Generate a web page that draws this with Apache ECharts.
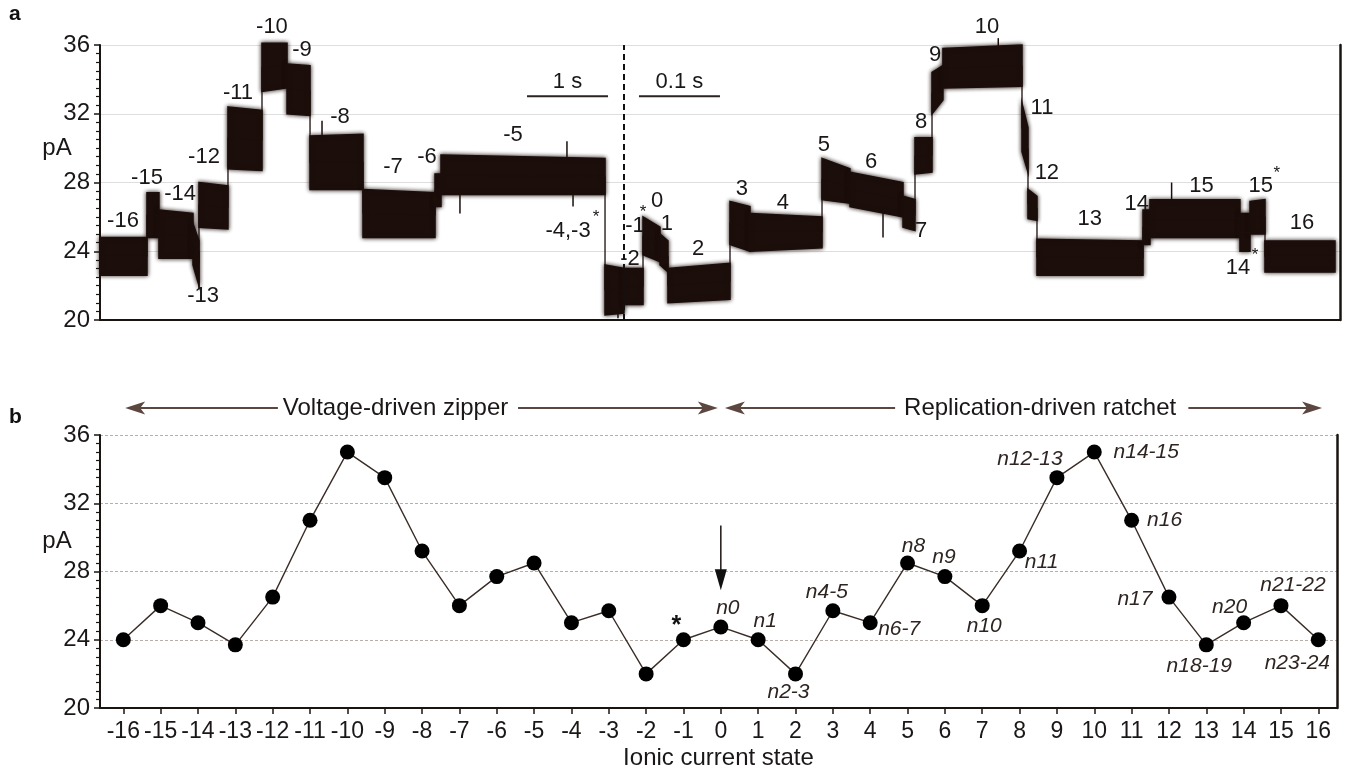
<!DOCTYPE html>
<html><head><meta charset="utf-8">
<script src="https://cdn.jsdelivr.net/npm/echarts@6/dist/echarts.min.js"></script>
<style>html,body{margin:0;padding:0;background:#fff}#c{width:1350px;height:779px}</style>
</head><body><div id="c"></div>
<script>
// ---------- Panel a: ionic current trace ----------
// x in scale-bar units: left of the break 1 unit = 1 s, right of the break 1 unit = 0.1 s
const traceBreak = 6.469;
const traceEdges = [0.000,0.580,0.728,1.148,1.222,1.580,2.000,2.309,2.593,3.247,4.136,4.210,6.235,6.469,6.704,6.914,7.012,7.778,8.025,8.914,9.259,9.914,10.062,10.272,10.407,11.383,11.457,11.568,12.877,12.963,14.074,14.198,14.383,15.247];
const traceStates = ['-16','-15','-14','-13','-12','-11','-10','-9','-8','-7','-6','-5','-2','-2','0','1','2','3','4','5','6','7','8','9','10','11','12','13','14','15','14*','15*','16'];
const traceLowStart  = [22.6,24.8,23.6,23.2,25.4,28.8,33.3,32.0,27.6,24.8,26.6,27.3,20.3,20.9,23.8,23.2,21.0,24.4,24.0,27.0,26.6,25.4,28.5,32.0,33.5,29.8,25.9,22.6,24.4,24.8,24.0,25.0,22.8];
const traceHighStart = [24.8,27.4,26.4,25.6,28.0,32.4,36.1,34.9,30.7,27.6,28.5,29.6,23.2,23.0,26.0,25.0,23.0,26.9,26.2,29.4,28.6,27.2,30.6,34.4,35.8,32.6,27.6,24.7,26.4,27.0,26.2,26.9,24.6];
const traceLowEnd    = [22.6,24.8,23.6,22.0,25.3,28.7,33.5,31.9,27.6,24.8,26.6,27.3,20.4,20.9,23.4,22.8,21.2,24.0,24.2,26.8,26.0,25.2,28.6,32.8,33.6,28.6,25.8,22.6,24.4,24.8,24.0,25.0,22.8];
const traceHighEnd   = [24.8,27.4,26.2,24.6,27.8,32.2,36.1,34.8,30.8,27.4,28.5,29.4,23.0,23.0,25.4,24.6,23.3,26.6,26.0,28.8,28.0,27.0,30.6,34.8,36.0,31.2,27.2,24.6,26.4,27.0,26.2,27.0,24.6];
// isolated spikes [x, from pA, to pA]
const traceSpikes = [[2.741,30.4,31.6],[4.444,27.4,26.2],[5.765,29.4,30.4],[5.840,27.4,26.6],[6.395,20.4,20.1],[9.667,26.7,24.8],[13.23,26.9,28.0],[11.09,35.8,36.4],[1.222,24.0,21.8]];
// scale bars [x0, x1, pA, text]
const scaleBars = [[5.272,6.272,33.02,'1 s'],[6.654,7.654,33.02,'0.1 s']];
// state labels of the trace [text, x, pA]
const traceLabels = [['-16',0.284,25.78],['-15',0.58,28.29],['-14',0.988,27.36],['-13',1.272,21.40],['-12',1.284,29.46],['-11',1.704,33.2],['-10',2.123,37.05],['-9',2.494,35.71],['-8',2.963,31.8],['-7',3.617,28.88],['-6',4.037,29.46],['-5',5.099,30.74],['-4,-3',5.778,25.2],['-2',6.543,23.56],['-1',6.605,25.49],['0',6.877,26.95],['1',7.0,25.6],['2',7.383,24.15],['3',7.926,27.65],['4',8.432,26.83],['5',8.938,30.16],['6',9.519,29.17],['7',10.136,25.2],['8',10.136,31.5],['9',10.309,35.42],['10',10.951,37.05],['11',11.63,32.32],['12',11.69,28.58],['13',12.22,25.9],['14',12.8,26.77],['15',13.6,27.82],['15',14.33,27.82],['14',14.05,23.04],['16',14.84,25.66]];
const traceStars = [[6.123,25.96],[6.704,26.25],[14.53,28.53],[14.26,23.74]];

// ---------- Panel b: mean current per state ----------
const states = [-16,-15,-14,-13,-12,-11,-10,-9,-8,-7,-6,-5,-4,-3,-2,-1,0,1,2,3,4,5,6,7,8,9,10,11,12,13,14,15,16];
const meanPA = [24.0,26.0,25.0,23.7,26.5,31.0,35.0,33.5,29.2,26.0,27.7,28.5,25.0,25.7,22.0,24.0,24.75,24.0,22.0,25.7,25.0,28.5,27.7,26.0,29.2,33.5,35.0,31.0,26.5,23.7,25.0,26.0,24.0];
// nucleotide labels [state, text, dx, dy]
const pointLabels = [[0,'n0',7,-19],[1,'n1',7,-19],[2,'n2-3',-7,18],[3,'n4-5',-6,-19],[4,'n6-7',29,6],[5,'n8',6,-17],[6,'n9',-1,-19],[7,'n10',2,21],[8,'n11',22,11],[9,'n12-13',-27,-19],[10,'n14-15',52,0],[11,'n16',33,0],[12,'n17',-34,2],[13,'n18-19',-7,21],[14,'n20',-14,-16],[15,'n21-22',12,-20],[16,'n23-24',-21,23]];
const starState = -1;
// direction arrows [tail x, tip x, pA]
const phaseArrows = [[-11.86,-15.95,37.58],[-5.43,-0.08,37.58],[4.667,0.11,37.58],[12.52,16.10,37.58]];
const phaseTexts = [['Voltage-driven zipper',-8.71,37.58],['Replication-driven ratchet',8.55,37.58]];
const downArrow = [0,30.7,26.9];
const stateTicks = states.slice();

const FONT = "'Liberation Sans', Arial, sans-serif";
const TXT = '#1a1716';
const ARW = '#5b4740';
const TRACE = '#1b0e0b';
const CLEAR = 'rgba(0,0,0,0)';

const bandData = traceStates.map((s,i)=>[traceEdges[i],traceEdges[i+1],traceLowStart[i],traceHighStart[i],traceLowEnd[i],traceHighEnd[i]]);
const midLine = [];
traceStates.forEach((s,i)=>{
  midLine.push([traceEdges[i],(traceLowStart[i]+traceHighStart[i])/2]);
  midLine.push([traceEdges[i+1],(traceLowEnd[i]+traceHighEnd[i])/2]);
});

const chart = echarts.init(document.getElementById('c'), null, {renderer:'canvas'});

function yAx(grid, dashed){
  return {gridIndex:grid,type:'value',min:20,max:36,interval:4,
    axisLine:{show:true,onZero:false,lineStyle:{color:'#1a1411',width:2}},
    axisTick:{show:true,length:6,lineStyle:{color:'#1a1411',width:1.5}},
    minorTick:{show:true,splitNumber:8,length:4,lineStyle:{color:'#1a1411',width:1.2}},
    axisLabel:{fontFamily:FONT,fontSize:24,color:TXT,margin:10},
    splitLine:{show:true,lineStyle:dashed?{color:'#b8aeaa',width:1,type:[3,2]}:{color:'#dedede',width:1}}};
}
function yRight(grid){
  return {gridIndex:grid,type:'value',position:'right',min:20,max:36,
    axisLine:{show:true,onZero:false,lineStyle:{color:'#1a1411',width:2.5}},axisTick:{show:false},axisLabel:{show:false},splitLine:{show:false}};
}
function txtLabel(size, color, extra){
  return Object.assign({show:true,position:'inside',formatter:'{b}',fontFamily:FONT,fontSize:size,color:color,
    textBorderWidth:0,textShadowBlur:0,opacity:1}, extra||{});
}

const option = {
  animation:false,
  backgroundColor:'#fff',
  grid:[{left:100,right:10,top:45,bottom:459},{left:100,right:13,top:435,bottom:71}],
  xAxis:[
    {gridIndex:0,type:'value',min:0,max:15.309,
      axisLine:{show:true,onZero:false,lineStyle:{color:'#1a1411',width:2}},
      axisTick:{show:false},axisLabel:{show:false},splitLine:{show:false}},
    {gridIndex:1,type:'value',min:-16.624,max:16.5,
      name:'Ionic current state',nameLocation:'middle',nameGap:38,
      nameTextStyle:{fontFamily:FONT,fontSize:24,color:TXT},
      axisLine:{show:true,onZero:false,lineStyle:{color:'#1a1411',width:2}},
      axisTick:{show:true,customValues:stateTicks,length:6,lineStyle:{color:'#1a1411',width:1.5}},
      axisLabel:{customValues:stateTicks,fontFamily:FONT,fontSize:23,color:TXT,margin:12},
      splitLine:{show:false}}
  ],
  yAxis:[yAx(0,false),yRight(0),yAx(1,true),yRight(1)],
  graphic:[
    {type:'text',left:9,top:4,style:{text:'a',font:"bold 21px "+FONT,fill:'#111'}},
    {type:'text',left:9,top:407,style:{text:'b',font:"bold 21px "+FONT,fill:'#111'}},
    {type:'text',x:57,y:148,style:{text:'pA',font:"24px "+FONT,fill:TXT,align:'center',verticalAlign:'middle'}},
    {type:'text',x:57,y:541,style:{text:'pA',font:"24px "+FONT,fill:TXT,align:'center',verticalAlign:'middle'}}
  ],
  series:[
    // trace bands
    {type:'custom',xAxisIndex:0,yAxisIndex:0,clip:false,silent:true,
      renderItem:(params,api)=>{
        const x0=api.value(0),x1=api.value(1);
        const pts=[api.coord([x0,api.value(3)]),api.coord([x1,api.value(5)]),api.coord([x1,api.value(4)]),api.coord([x0,api.value(2)])];
        return {type:'polygon',shape:{points:pts},style:{fill:TRACE,stroke:TRACE,lineWidth:1.5,shadowBlur:4,shadowColor:'rgba(27,14,11,0.9)'}};
      },
      data:bandData,z:3},
    // transitions between states
    {type:'line',xAxisIndex:0,yAxisIndex:0,data:midLine,symbol:'none',lineStyle:{color:TRACE,width:1.3},z:3,silent:true},
    // spikes
    {type:'custom',xAxisIndex:0,yAxisIndex:0,clip:false,silent:true,
      renderItem:(params,api)=>{
        const a=api.coord([api.value(0),api.value(1)]),b=api.coord([api.value(0),api.value(2)]);
        return {type:'line',shape:{x1:a[0],y1:a[1],x2:b[0],y2:b[1]},style:{stroke:TRACE,lineWidth:1.5}};
      },data:traceSpikes,z:3},
    // scale bars
    {type:'custom',xAxisIndex:0,yAxisIndex:0,clip:false,silent:true,
      renderItem:(params,api)=>{
        const a=api.coord([api.value(0),api.value(2)]),b=api.coord([api.value(1),api.value(2)]);
        const t=scaleBars[params.dataIndex][3];
        return {type:'group',children:[
          {type:'line',shape:{x1:a[0],y1:a[1],x2:b[0],y2:b[1]},style:{stroke:'#2a2321',lineWidth:2}},
          {type:'text',x:(a[0]+b[0])/2,y:a[1]-14,style:{text:t,font:"22px "+FONT,fill:TXT,align:'center',verticalAlign:'middle'}}
        ]};
      },data:scaleBars.map(d=>[d[0],d[1],d[2]]),z:4},
    // break line and labels
    {type:'scatter',xAxisIndex:0,yAxisIndex:0,symbolSize:1,itemStyle:{color:CLEAR},silent:true,clip:false,
      label:txtLabel(22,TXT),
      data:traceLabels.map(d=>({name:d[0],value:[d[1],d[2]]})).concat(
        traceStars.map(d=>({name:'*',value:[d[0],d[1]],label:{fontSize:17}}))),
      markLine:{silent:true,symbol:'none',label:{show:false},
        lineStyle:{color:'#111',width:2,type:[6,4]},
        data:[[{coord:[traceBreak,20]},{coord:[traceBreak,36]}]]},
      z:5},
    // panel b line
    {type:'line',xAxisIndex:1,yAxisIndex:2,data:states.map((s,i)=>[s,meanPA[i]]),
      symbol:'circle',symbolSize:15,itemStyle:{color:'#000'},
      lineStyle:{color:'#3a2c27',width:1.4},z:3,silent:true},
    // point labels
    {type:'scatter',xAxisIndex:1,yAxisIndex:2,symbolSize:1,itemStyle:{color:CLEAR},silent:true,clip:false,
      label:txtLabel(21,'#2e2522',{fontStyle:'italic'}),
      data:pointLabels.map(d=>({name:d[1],value:[d[0],meanPA[states.indexOf(d[0])]],label:{offset:[d[2],d[3]]}})).concat(
        [{name:'*',value:[starState,meanPA[states.indexOf(starState)]],label:{offset:[-7,-14],fontStyle:'normal',fontWeight:'bold',fontSize:25,color:'#111'}}]),
      z:5},
    // arrows
    {type:'custom',xAxisIndex:1,yAxisIndex:2,clip:false,silent:true,
      renderItem:(params,api)=>{
        const tail=api.coord([api.value(0),api.value(2)]),tip=api.coord([api.value(1),api.value(2)]);
        const dir=tip[0]>tail[0]?1:-1, L=20, W=6.5;
        return {type:'group',children:[
          {type:'line',shape:{x1:tail[0],y1:tail[1],x2:tip[0]-dir*L*0.6,y2:tip[1]},style:{stroke:ARW,lineWidth:2}},
          {type:'polygon',shape:{points:[[tip[0],tip[1]],[tip[0]-dir*L,tip[1]-W],[tip[0]-dir*L*0.75,tip[1]],[tip[0]-dir*L,tip[1]+W]]},style:{fill:ARW}}
        ]};
      },data:phaseArrows,z:4},
    {type:'scatter',xAxisIndex:1,yAxisIndex:2,symbolSize:1,itemStyle:{color:CLEAR},silent:true,clip:false,
      label:txtLabel(24,TXT),
      data:phaseTexts.map(d=>({name:d[0],value:[d[1],d[2]]})),z:5},
    // down arrow above state 0
    {type:'custom',xAxisIndex:1,yAxisIndex:2,clip:false,silent:true,
      renderItem:(params,api)=>{
        const a=api.coord([api.value(0),api.value(1)]),b=api.coord([api.value(0),api.value(2)]);
        const L=21,W=6;
        return {type:'group',children:[
          {type:'line',shape:{x1:a[0],y1:a[1],x2:b[0],y2:b[1]-L+2},style:{stroke:'#2a2321',lineWidth:1.6}},
          {type:'polygon',shape:{points:[[b[0],b[1]],[b[0]-W,b[1]-L],[b[0]+W,b[1]-L]]},style:{fill:'#111'}}
        ]};
      },data:[downArrow],z:4}
  ]
};
chart.setOption(option);
</script>
</body></html>
